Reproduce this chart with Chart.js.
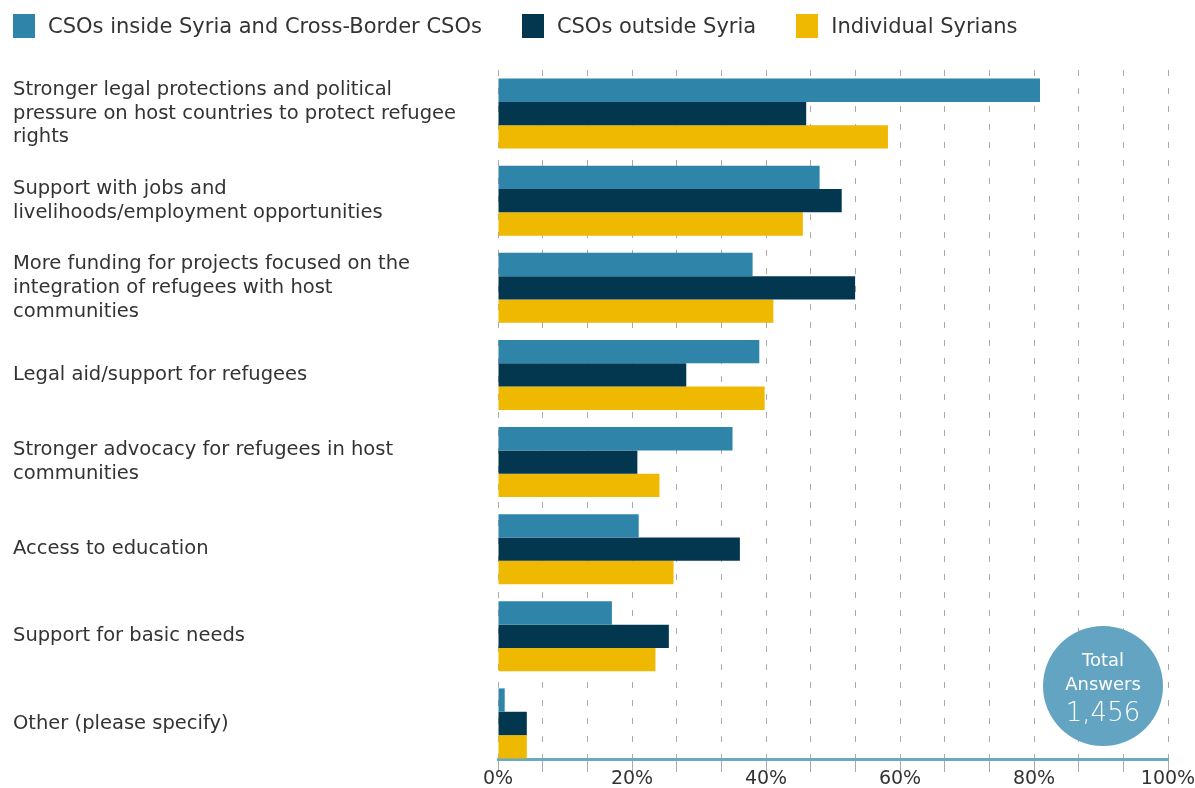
<!DOCTYPE html>
<html>
<head>
<meta charset="utf-8">
<script src="https://cdn.jsdelivr.net/npm/chart.js@4.4.1/dist/chart.umd.min.js"></script>
<style>
    html, body { margin: 0; padding: 0; background: #fff; }
    #wrap { position: relative; width: 1195px; height: 788px; }
    #legend { position: absolute; left: 13px; top: 14px; display: flex; font-family: "DejaVu Sans", sans-serif; font-size: 21px; color: #333; }
    .item { display: flex; align-items: center; margin-right: 40px; }
    .box { width: 22px; height: 24px; margin-right: 13px; }
</style>
</head>
<body>
<div id="wrap">
    <div id="legend"></div>
    <canvas id="chart" width="1195" height="788"></canvas>
</div>
<script>
const categories = [
    ['Stronger legal protections and political', 'pressure on host countries to protect refugee', 'rights'],
    ['Support with jobs and', 'livelihoods/employment opportunities'],
    ['More funding for projects focused on the', 'integration of refugees with host', 'communities'],
    ['Legal aid/support for refugees'],
    ['Stronger advocacy for refugees in host', 'communities'],
    ['Access to education'],
    ['Support for basic needs'],
    ['Other (please specify)']
];
const seriesNames = ['CSOs inside Syria and Cross-Border CSOs', 'CSOs outside Syria', 'Individual Syrians'];
const insideSyria = [80.9, 48.0, 38.0, 39.0, 35.0, 21.0, 17.0, 1.0];
const outsideSyria = [46.0, 51.3, 53.3, 28.1, 20.8, 36.1, 25.5, 4.3];
const individuals = [58.2, 45.5, 41.1, 39.8, 24.1, 26.2, 23.5, 4.3];
const colors = ['#2e84a9', '#02374f', '#eeb900'];
const tickLabels = ['0%', '20%', '40%', '60%', '80%', '100%'];
const totalAnswers = '1,456';

const legend = document.getElementById('legend');
seriesNames.forEach((name, i) => {
    legend.innerHTML += `<div class="item"><div class="box" style="background:${colors[i]}"></div>${name}</div>`;
});

const badge = {
    id: 'badge',
    afterDraw(chart) {
        const ctx = chart.ctx;
        ctx.save();
        ctx.beginPath();
        ctx.arc(1103, 686, 60, 0, Math.PI * 2);
        ctx.fillStyle = '#62a4c2';
        ctx.fill();
        ctx.fillStyle = '#fff';
        ctx.textAlign = 'center';
        ctx.textBaseline = 'middle';
        ctx.font = '18px "DejaVu Sans"';
        ctx.fillText('Total', 1103, 661);
        ctx.fillText('Answers', 1103, 685);
        ctx.font = '200 26px "DejaVu Sans"';
        ctx.fillText(totalAnswers, 1103, 714);
        ctx.restore();
    }
};

// the last group of bars sits right on the axis line in the original
const stretchY = {
    id: 'stretchY',
    afterLayout(chart) {
        chart.scales.y._length += 8;
    }
};

const data = [insideSyria, outsideSyria, individuals];
new Chart(document.getElementById('chart'), {
    type: 'bar',
    data: {
        labels: categories,
        datasets: data.map((d, i) => ({
            label: seriesNames[i],
            data: d,
            backgroundColor: colors[i],
            borderWidth: 0,
            categoryPercentage: 0.804,
            barPercentage: 1
        }))
    },
    options: {
        indexAxis: 'y',
        responsive: false,
        animation: false,
        layout: { padding: { top: 70, left: 13, right: 27, bottom: 0 } },
        plugins: {
            legend: { display: false },
            tooltip: { enabled: false }
        },
        scales: {
            x: {
                min: 0,
                max: 100,
                afterBuildTicks: axis => {
                    axis.ticks = Array.from({ length: 16 }, (_, i) => ({ value: i * 100 / 15 }));
                },
                afterFit: axis => { axis.height = 29; },
                ticks: {
                    autoSkip: false,
                    maxRotation: 0,
                    padding: -4,
                    color: '#333',
                    font: { family: 'DejaVu Sans', size: 19 },
                    callback: v => {
                        const k = v / 20;
                        return Math.abs(k - Math.round(k)) < 1e-6 ? tickLabels[Math.round(k)] : '';
                    }
                },
                grid: {
                    color: '#aaa',
                    lineWidth: 1,
                    tickLength: 13,
                    tickColor: '#aaa',
                    tickBorderDash: [],
                    drawOnChartArea: true
                },
                border: { color: '#6aa9c6', width: 3, dash: [6, 12] }
            },
            y: {
                afterFit: axis => {
                    axis.width = 485;
                    axis.paddingTop = 0;
                    axis.paddingBottom = 0;
                },
                ticks: {
                    crossAlign: 'far',
                    padding: 0,
                    color: '#333',
                    font: { family: 'DejaVu Sans', size: 19.5, lineHeight: 1.22 }
                },
                grid: { display: false },
                border: { display: false }
            }
        }
    },
    plugins: [badge, stretchY]
});
</script>
</body>
</html>
